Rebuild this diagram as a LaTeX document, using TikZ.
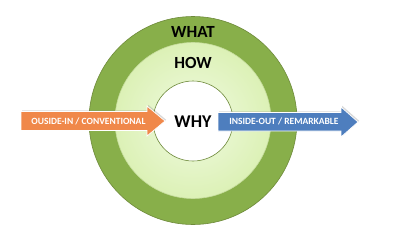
\documentclass[tikz,border=0pt]{standalone}
\usepackage{fontspec}
\setmainfont{Carlito}
\usetikzlibrary{shadows}
\definecolor{outergreen}{RGB}{136,175,74}
\definecolor{outerline}{RGB}{110,138,58}
\definecolor{midgreen}{RGB}{220,241,182}
\definecolor{midlight}{RGB}{240,250,225}
\definecolor{arroworange}{RGB}{240,136,74}
\definecolor{arrowblue}{RGB}{78,126,190}
\tikzset{
  ring/.style={circle, draw=outerline, line width=0.6pt, inner sep=0pt},
  ringlabel/.style={font=\bfseries, text=black, inner sep=0pt},
  arrowshape/.style={draw=white, line width=0.7pt, line join=miter,
    drop shadow={shadow xshift=1.2pt, shadow yshift=1.2pt, opacity=0.3}},
  arrowtext/.style={text=white, inner sep=0pt, font=\bfseries\fontsize{9.5}{11}\selectfont},
}
\begin{document}
\begin{tikzpicture}[x=1pt,y=-1pt]
\useasboundingbox[fill=white] (0,0) rectangle (400,239);
\node[ring, fill=outergreen, minimum size=208pt] (what) at (193,120.5) {};
\node[ring, inner color=midlight, outer color=midgreen, draw=midgreen!80!outerline, minimum size=156pt] (how) at (193,120.5) {};
\node[ring, fill=white, minimum size=80pt] (why) at (193,121) {};
\node[ringlabel, font=\bfseries\fontsize{17}{20}\selectfont] (whatlbl) at (193,32) {WHAT};
\node[ringlabel, font=\bfseries\fontsize{17}{20}\selectfont] (howlbl) at (193,63) {HOW};
\node[ringlabel, font=\bfseries\fontsize{18}{21}\selectfont] (whylbl) at (193,122) {WHY};
% left arrow
\path[arrowshape, fill=arroworange] (21,111.5) -- (147,111.5) -- (147,106) -- (165,121) -- (147,136) -- (147,130.5) -- (21,130.5) -- cycle;
\node[arrowtext] (outin) at (88.5,121) {OUSIDE-IN / CONVENTIONAL};
% right arrow
\path[arrowshape, fill=arrowblue] (218,112.5) -- (341,112.5) -- (341,107) -- (358,122) -- (341,137) -- (341,131) -- (218,131) -- cycle;
\node[arrowtext] (inout) at (284,121.5) {INSIDE-OUT / REMARKABLE};
\end{tikzpicture}
\end{document}
